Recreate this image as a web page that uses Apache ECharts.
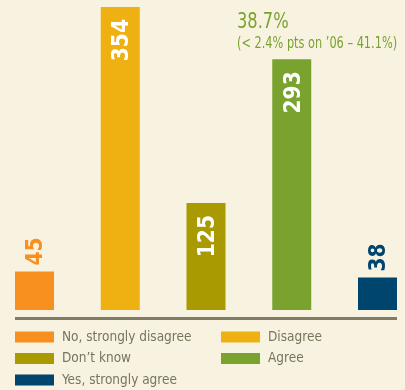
<!DOCTYPE html>
<html>
<head>
<meta charset="utf-8">
<script src="https://cdn.jsdelivr.net/npm/echarts@6/dist/echarts.min.js"></script>
<style>
html,body{margin:0;padding:0;background:#f8f3e1;}
#chart{width:405px;height:390px;}
</style>
</head>
<body>
<div id="chart"></div>
<script>
var categories = ['No, strongly disagree', 'Disagree', 'Don\u2019t know', 'Agree', 'Yes, strongly agree'];
var values = [45, 354, 125, 293, 38];
var colors = ['#f7901e', '#eeb111', '#a89a00', '#79a22e', '#00456e'];
var legendLeft = ['No, strongly disagree', 'Don\u2019t know', 'Yes, strongly agree'];
var legendRight = ['Disagree', 'Agree'];
var noteTitle = '38.7%';
var noteSub = '(< 2.4% pts on \u201906 \u2013 41.1%)';

var FONT = '"DejaVu Sans Condensed", "Liberation Sans", sans-serif';

var chart = echarts.init(document.getElementById('chart'), null, {renderer: 'canvas'});

var series = categories.map(function (name, i) {
  var inside = values[i] > 100;
  return {
    name: name,
    type: 'bar',
    barWidth: 39,
    barGap: '-100%',
    itemStyle: {color: colors[i]},
    data: categories.map(function (c, j) { return j === i ? values[i] : null; }),
    label: {
      show: true,
      rotate: 90,
      position: inside ? 'insideTop' : 'top',
      distance: inside ? 12 : 6,
      align: inside ? 'right' : 'left',
      verticalAlign: 'middle',
      offset: [0, 2],
      color: inside ? '#ffffff' : colors[i],
      fontFamily: FONT,
      fontWeight: 'bold',
      fontSize: 22.5
    }
  };
});

var legendCommon = {
  orient: 'vertical',
  top: 329,
  padding: 0,
  itemWidth: 39,
  itemHeight: 11,
  itemGap: 5.5,
  icon: 'rect',
  selectedMode: false,
  textStyle: {color: '#77755c', fontSize: 13.5, fontFamily: FONT, lineHeight: 16, padding: [0, 0, 0, 3]}
};

chart.setOption({
  backgroundColor: '#f8f3e1',
  animation: false,
  legend: [
    Object.assign({left: 15, data: legendLeft}, legendCommon),
    Object.assign({left: 221, data: legendRight}, legendCommon)
  ],
  grid: {left: 34.5, right: 27.5, top: 7, height: 303, containLabel: false},
  xAxis: {
    type: 'category',
    data: categories,
    boundaryGap: false,
    axisLine: {show: false},
    axisTick: {show: false},
    axisLabel: {show: false},
    splitLine: {show: false}
  },
  yAxis: {
    type: 'value',
    min: 0,
    max: 354,
    show: false,
    splitLine: {show: false}
  },
  graphic: [{
    type: 'line',
    shape: {x1: 15, y1: 318.5, x2: 397, y2: 318.5},
    style: {stroke: '#7f7b65', lineWidth: 3}
  }, {
    type: 'text',
    x: 237, y: 33,
    scaleX: 0.86,
    style: {text: noteTitle, fill: '#79a22e', font: '21px ' + FONT, textVerticalAlign: 'bottom'}
  }, {
    type: 'text',
    x: 237, y: 52,
    scaleX: 0.84,
    style: {text: noteSub, fill: '#79a22e', font: '15px ' + FONT, textVerticalAlign: 'bottom'}
  }],
  series: series
});
</script>
</body>
</html>
